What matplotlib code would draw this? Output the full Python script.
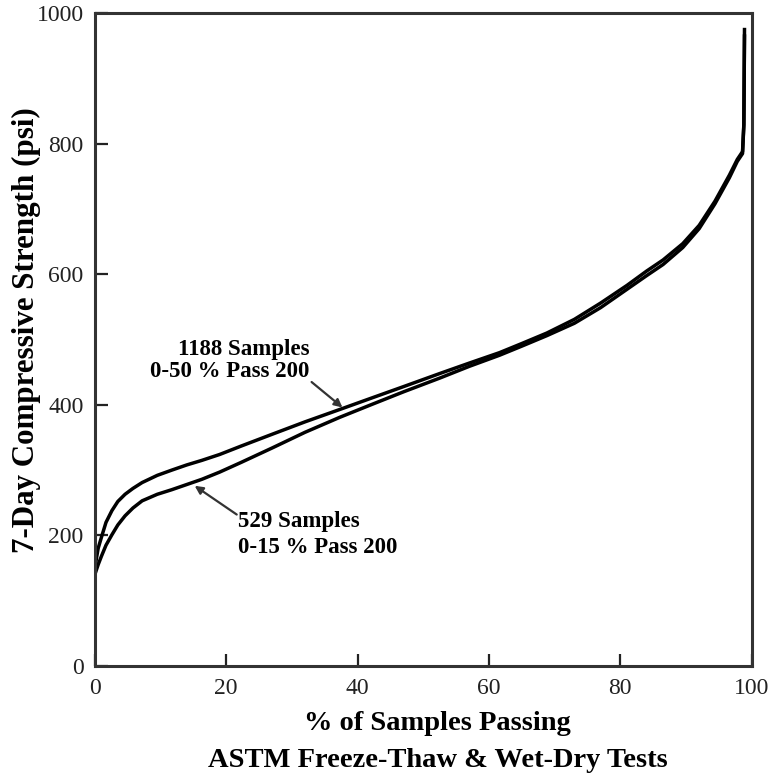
"""7-day compressive strength cumulative curves."""

import matplotlib
matplotlib.use("Agg")
import matplotlib.pyplot as plt

# % of samples passing vs 7-day compressive strength (psi)
pct_1188 = [0, 0.5, 1, 1.7, 2.6, 3.5, 4.6, 5.8, 7.2, 9.5, 11.7, 14, 16.3, 19,
            22.3, 27, 32, 37.3, 42, 47, 52.5, 57, 61.6, 65, 68.8, 73, 77, 81,
            84, 86.5, 89.5, 92, 94.4, 96.6, 97.8, 98.6, 98.8, 98.9]
psi_1188 = [150, 180, 197, 220, 238, 252, 263, 272, 281, 292, 300, 308, 315,
            324, 337, 355, 374, 393, 410, 428, 448, 464, 480, 494, 510, 531,
            556, 583, 605, 622, 647, 675, 712, 752, 776, 788, 830, 975]

pct_529 = [0, 0.5, 1, 1.7, 2.6, 3.5, 4.6, 5.8, 7.2, 9.5, 11.7, 14, 16.3, 19,
           22.3, 27, 32, 37.3, 42, 47, 52.5, 57, 61.6, 65, 68.8, 73, 77, 81,
           84, 86.5, 89.5, 92, 94.4, 96.6, 97.8, 98.6, 98.8, 98.9]
psi_529 = [140, 155, 168, 185, 201, 216, 230, 242, 253, 263, 270, 278, 286,
           297, 312, 334, 358, 381, 400, 420, 441, 459, 476, 490, 506, 525,
           549, 577, 598, 615, 641, 670, 708, 748, 773, 785, 828, 965]

x_ticks = [0, 20, 40, 60, 80, 100]
y_ticks = [0, 200, 400, 600, 800, 1000]

plt.rcParams["font.family"] = ["Liberation Serif", "DejaVu Serif"]

fig = plt.figure(figsize=(7.71, 7.78), dpi=100)
ax = fig.add_axes([0.123, 0.144, 0.852, 0.839])

ax.plot(pct_1188, psi_1188, color="black", linewidth=2.5, solid_joinstyle="round")
ax.plot(pct_529, psi_529, color="black", linewidth=2.5, solid_joinstyle="round")

ax.set_xlim(0, 100)
ax.set_ylim(0, 1000)
ax.set_xticks(x_ticks)
ax.set_yticks(y_ticks)
ax.tick_params(direction="in", length=9, width=1.6, labelsize=17, colors="#222222")
ax.tick_params(axis="x", pad=9)
ax.tick_params(axis="y", pad=8)
for spine in ax.spines.values():
    spine.set_linewidth(2.2)
    spine.set_color("#333333")

ax.set_xlabel("% of Samples Passing\nASTM Freeze-Thaw & Wet-Dry Tests",
              fontsize=20.5, fontweight="bold", linespacing=1.62)
ax.xaxis.set_label_coords(0.522, -0.069)
ax.set_ylabel("7-Day Compressive Strength (psi)", fontsize=22.3,
              fontweight="bold")
ax.yaxis.set_label_coords(-0.082, 0.515)

arrow = dict(arrowstyle="-|>", color="#333333", lw=1.6, mutation_scale=12,
             shrinkA=0, shrinkB=0)
ax.annotate("", xy=(37.7, 396), xytext=(33.0, 435), arrowprops=arrow)
ax.text(32.7, 468, "1188 Samples\n0-50 % Pass 200", ha="right", va="center",
        fontsize=16.5, fontweight="bold", multialignment="right",
        linespacing=1.05)
ax.annotate("", xy=(15.2, 276), xytext=(21.6, 232), arrowprops=arrow)
ax.text(21.8, 201, "529 Samples\n0-15 % Pass 200", ha="left", va="center",
        fontsize=16.5, fontweight="bold", multialignment="left",
        linespacing=1.3)

fig.savefig("out.png", dpi=100)
